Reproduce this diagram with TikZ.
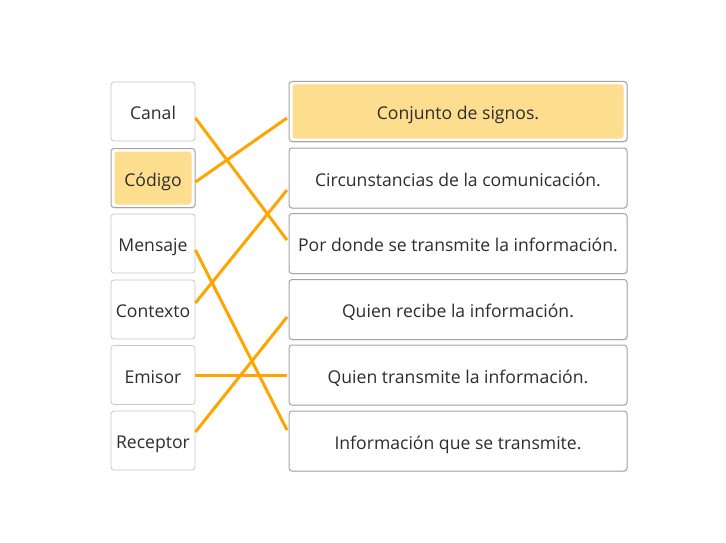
\documentclass[tikz,border=0pt]{standalone}
\usepackage{fontspec}
\setmainfont{Open Sans}
\usetikzlibrary{shadows}
\definecolor{hl}{RGB}{253,221,142}
\definecolor{txt}{RGB}{45,45,45}
\definecolor{lineor}{RGB}{255,165,0}
\definecolor{bdl}{RGB}{200,200,200}
\definecolor{bdr}{RGB}{165,165,165}
\begin{document}
\begin{tikzpicture}[x=1pt,y=-1pt,
  base/.style={rounded corners=3pt, fill=white, text=txt, font=\fontsize{17.6pt}{20pt}\selectfont, inner sep=0pt, align=center, text height=16.5pt, text depth=0pt},
  leftbox/.style={base, draw=bdl, line width=0.8pt, minimum width=84pt, minimum height=59pt},
  rightbox/.style={base, draw=bdr, line width=1pt, minimum width=338pt, minimum height=60pt,
     drop shadow={opacity=0.18, shadow xshift=0.6pt, shadow yshift=-0.8pt}},
  selbox/.style={draw=bdr, line width=1pt, drop shadow={opacity=0.18, shadow xshift=0.6pt, shadow yshift=-0.8pt},
     path picture={\fill[hl] ([shift={(3.5pt,-3pt)}]path picture bounding box.north west) rectangle ([shift={(-3.5pt,3pt)}]path picture bounding box.south east);}},
  link/.style={draw=lineor, line width=3pt}
]
\useasboundingbox (0,0) rectangle (726,543);
\fill[white] (0,0) rectangle (726,543);

\node[leftbox] (canal) at (153,111.5) {Canal};
\node[leftbox, selbox] (codigo) at (153,178) {Código};
\node[leftbox] (mensaje) at (153,243.5) {Mensaje};
\node[leftbox] (contexto) at (153,309.5) {Contexto};
\node[leftbox] (emisor) at (153,375) {Emisor};
\node[leftbox] (receptor) at (153,440.5) {Receptor};

\node[rightbox, selbox] (conjunto) at (458,111.5) {Conjunto de signos.};
\node[rightbox] (circ) at (458,178) {Circunstancias de la comunicación.};
\node[rightbox] (pordonde) at (458,243.5) {Por donde se transmite la información.};
\node[rightbox] (recibe) at (458,309.5) {Quien recibe la información.};
\node[rightbox] (transmite) at (458,375) {Quien transmite la información.};
\node[rightbox] (informacion) at (458,441) {Información que se transmite.};

\draw[link] ([yshift=-6.5pt]canal.east) -- ([yshift=3.5pt,xshift=-1.5pt]pordonde.west);
\draw[link] ([yshift=-4pt]codigo.east) -- ([yshift=-6.5pt,xshift=-1.5pt]conjunto.west);
\draw[link] ([yshift=-6.5pt]mensaje.east) -- ([yshift=11pt,xshift=-1.5pt]informacion.west);
\draw[link] ([yshift=6.5pt]contexto.east) -- ([yshift=-12pt,xshift=-1.5pt]circ.west);
\draw[link] (emisor.east) -- ([xshift=-1.5pt]transmite.west);
\draw[link] ([yshift=8.5pt]receptor.east) -- ([yshift=-7.5pt,xshift=-1.5pt]recibe.west);
\end{tikzpicture}
\end{document}
